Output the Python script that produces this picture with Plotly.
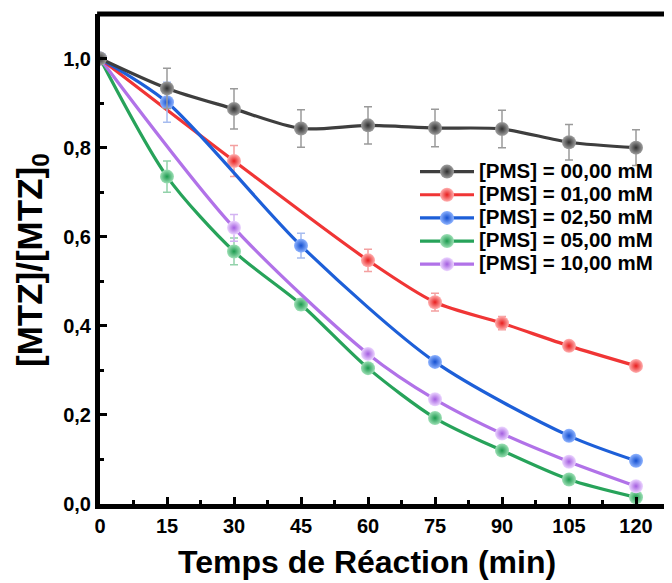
import plotly.graph_objects as go

# ---- data ----
black_t = [0, 15, 30, 45, 60, 75, 90, 105, 120]
black_y = [1.0, 0.933, 0.887, 0.843, 0.850, 0.844, 0.842, 0.812, 0.800]
black_e = [0.0, 0.045, 0.045, 0.042, 0.042, 0.042, 0.042, 0.040, 0.040]

red_t = [0, 30, 60, 75, 90, 105, 120]
red_y = [1.0, 0.770, 0.547, 0.453, 0.406, 0.355, 0.310]
red_e = [0.0, 0.035, 0.025, 0.020, 0.015, 0.010, 0.008]

blue_t = [0, 15, 45, 75, 105, 120]
blue_y = [1.0, 0.902, 0.580, 0.319, 0.153, 0.097]
blue_e = [0.0, 0.045, 0.028, 0.008, 0.006, 0.006]

green_t = [0, 15, 30, 45, 60, 75, 90, 105, 120]
green_y = [1.0, 0.735, 0.567, 0.448, 0.305, 0.193, 0.120, 0.055, 0.015]
green_e = [0.0, 0.035, 0.030, 0.012, 0.008, 0.006, 0.006, 0.006, 0.004]

purple_t = [0, 30, 60, 75, 90, 105, 120]
purple_y = [1.0, 0.620, 0.337, 0.235, 0.158, 0.095, 0.040]
purple_e = [0.0, 0.030, 0.010, 0.006, 0.006, 0.006, 0.004]

series_names = ["[PMS] = 00,00 mM", "[PMS] = 01,00 mM", "[PMS] = 02,50 mM",
                "[PMS] = 05,00 mM", "[PMS] = 10,00 mM"]

x_ticks = [0, 15, 30, 45, 60, 75, 90, 105, 120]
x_tick_labels = ["0", "15", "30", "45", "60", "75", "90", "105", "120"]
y_ticks = [0.0, 0.2, 0.4, 0.6, 0.8, 1.0]
y_tick_labels = ["0,0", "0,2", "0,4", "0,6", "0,8", "1,0"]

x_title = "Temps de Réaction (min)"
y_title = "[MTZ]/[MTZ]<sub>0</sub>"

# ---- styles ----
styles = {
    "black":  dict(line="#3e3e3e", center="#a0a0a0", edge="#303030", err="#9a9a9a"),
    "red":    dict(line="#f03535", center="#ffb0b0", edge="#e81e1e", err="#f4a0a0"),
    "blue":   dict(line="#1d5fd8", center="#8fb4ff", edge="#1550d0", err="#a6bcef"),
    "green":  dict(line="#27a35a", center="#9ee0b6", edge="#1c9a4e", err="#92d2aa"),
    "purple": dict(line="#b172e8", center="#ecd6ff", edge="#a45ee0", err="#d3b4f2"),
}

series = [
    ("green", green_t, green_y, green_e, series_names[3], 4),
    ("purple", purple_t, purple_y, purple_e, series_names[4], 5),
    ("red", red_t, red_y, red_e, series_names[1], 2),
    ("blue", blue_t, blue_y, blue_e, series_names[2], 3),
    ("black", black_t, black_y, black_e, series_names[0], 1),
]

FONT = "Liberation Sans, Arial, sans-serif"
OFF = 8                      # page body margin offset
W, H = 672, 583
# target plot box in screen pixels
SX0, SY0, SY1 = 100, 14, 504
L, T = SX0 - OFF, SY0 - OFF
B = H - (SY1 - OFF)
R = 0
PW, PH = W - L - R, H - T - B
X_MAX = (W + OFF - SX0) / ((636 - SX0) / 120)


def px(sx):
    return (sx - OFF - L) / PW


def py(sy):
    return (H - B - (sy - OFF)) / PH


fig = go.Figure()
for key, t, y, e, name, rank in series:
    s = styles[key]
    fig.add_trace(go.Scatter(
        x=t, y=y, legendrank=rank,
        name='<span style="font-size:20.5px">' + name + '</span>',
        mode="lines+markers",
        line=dict(color=s["line"], width=3.2, shape="spline", smoothing=0.8),
        marker=dict(size=14, color=s["center"], line=dict(width=0),
                    gradient=dict(type="radial", color=s["edge"])),
        error_y=dict(type="data", array=e, visible=True, color=s["err"],
                     thickness=1.5, width=4),
    ))

fig.add_shape(type="line", xref="paper", yref="paper", x0=-0.005, x1=1, y0=1, y1=1,
              line=dict(color="black", width=5), layer="above")

fig.add_annotation(text=x_title, xref="paper", yref="paper",
                   x=px(367), y=py(562),
                   xanchor="center", yanchor="middle", showarrow=False,
                   font=dict(size=32, family=FONT, color="black", weight="bold"))
fig.add_annotation(text=y_title, xref="paper", yref="paper",
                   x=px(32), y=py(260), textangle=-90, borderpad=0,
                   xanchor="center", yanchor="middle", showarrow=False,
                   font=dict(size=35, family=FONT, color="black", weight="bold"))

fig.update_layout(
    width=W, height=H,
    margin=dict(l=L, r=R, t=T, b=B, autoexpand=False),
    paper_bgcolor="white", plot_bgcolor="white",
    font=dict(family=FONT, color="black"),
    showlegend=True,
    legend=dict(x=px(415), y=py(155), xanchor="left", yanchor="top",
                bgcolor="rgba(0,0,0,0)", borderwidth=0,
                font=dict(size=15.5, family=FONT, color="black", weight="bold"),
                itemwidth=54, tracegroupgap=0),
    xaxis=dict(range=[0, X_MAX], tickvals=x_ticks, ticktext=x_tick_labels,
               automargin=False,
               showline=True, linecolor="black", linewidth=5, mirror=False,
               ticks="inside", ticklen=7, tickwidth=3, tickcolor="black",
               minor=dict(dtick=7.5, tick0=0, ticks="inside", ticklen=4, tickwidth=3,
                          tickcolor="black", showgrid=False),
               showgrid=False, zeroline=False,
               tickfont=dict(size=20, family=FONT, color="black", weight="bold")),
    yaxis=dict(range=[0, 1.1], tickvals=y_ticks, ticktext=y_tick_labels,
               automargin=False,
               showline=True, linecolor="black", linewidth=5, mirror=False,
               ticks="inside", ticklen=7, tickwidth=3, tickcolor="black",
               minor=dict(dtick=0.1, tick0=0, ticks="inside", ticklen=4, tickwidth=3,
                          tickcolor="black", showgrid=False),
               showgrid=False, zeroline=False,
               tickfont=dict(size=20, family=FONT, color="black", weight="bold")),
)

fig.write_html("out.html")
